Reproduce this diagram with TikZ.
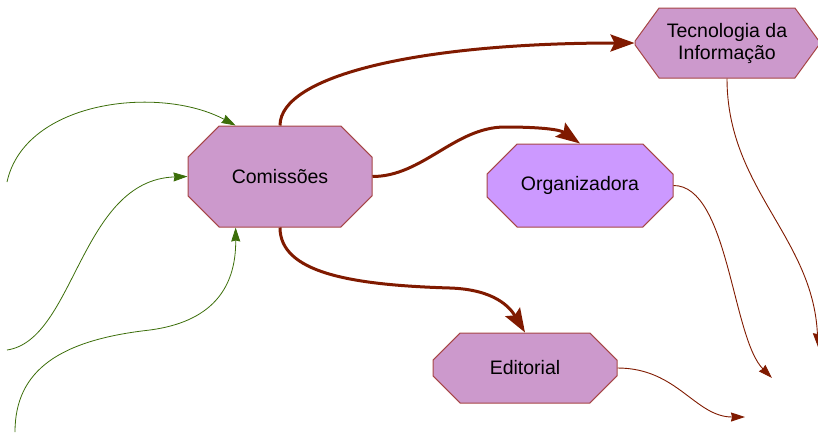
\documentclass[tikz,border=0pt]{standalone}
\usepackage{fontspec}
\setmainfont{Liberation Sans}
\usetikzlibrary{shapes.misc,arrows.meta}
\definecolor{boxfill}{RGB}{204,153,204}
\definecolor{orgfill}{RGB}{204,153,255}
\definecolor{boxline}{RGB}{166,70,70}
\definecolor{darkred}{RGB}{128,26,0}
\definecolor{leaf}{RGB}{60,110,10}
\begin{document}
\begin{tikzpicture}[x=1pt,y=-1pt,
        box/.style={chamfered rectangle, chamfered rectangle xsep=26pt, chamfered rectangle ysep=24pt,
            draw=boxline, line width=1pt, fill=boxfill, inner sep=0pt, minimum width=184pt, align=center,
            font=\fontsize{19.5}{22}\selectfont},
        bigarrow/.style={draw=darkred, line width=3pt, -{Stealth[length=24pt,width=17pt,inset=4pt]}},
        thinarrow/.style={draw=darkred, line width=0.9pt, -{Stealth[length=14pt,width=9pt,inset=1pt]}},
        greenarrow/.style={draw=leaf, line width=0.8pt, -{Stealth[length=14pt,width=9pt,inset=1pt]}}]
        \useasboundingbox (0,0) rectangle (818,432);
        \node[box, minimum height=70pt, inner ysep=-7pt, chamfered rectangle angle=36,
            chamfered rectangle ysep=20pt] (tec) at (727,43) {Tecnologia da\\Informação};
        \node[box, minimum height=101pt] (com) at (280,176.5) {Comissões};
        \node[box, fill=orgfill, minimum height=83pt, minimum width=186pt, chamfered rectangle ysep=21pt] (org) at (580,185.5) {Organizadora};
        \node[box, minimum height=70pt, chamfered rectangle xsep=21pt, chamfered rectangle ysep=20pt] (edi) at (525,368) {Editorial};
        \coordinate (tecend) at (818,347);
        \coordinate (orgend) at (772,378);
        \coordinate (ediend) at (745,417);
        \coordinate (g1) at (7,182);
        \coordinate (g2) at (7,350);
        \coordinate (g3) at (15,432);
        % thick arrows out of Comissoes
        \draw[bigarrow] (com.north) .. controls +(0,-50) and +(-215,0) .. (tec.west);
        \draw[bigarrow] (com.east) .. controls +(50,0) and +(-50,0) .. (505,127)
            .. controls +(35,0) and +(-20,-14) .. (org.north);
        \draw[bigarrow] (com.south) .. controls +(0,45) and +(-100,-3) .. (450,288)
            .. controls +(45,1.5) and +(-15,-25) .. (edi.north);
        % thin ones
        \draw[thinarrow] (tec.south) .. controls +(0,110) and +(-5,-110) .. (tecend);
        \draw[thinarrow] (org.east) .. controls +(55,0) and +(-40,-40) .. (orgend);
        \draw[thinarrow] (edi.east) .. controls +(60,0) and +(-50,0) .. (ediend);
        % green ones into Comissoes
        \draw[greenarrow] (g1) .. controls (25,100) and (160,85) .. (com.131);
        \draw[greenarrow] (g2) .. controls (75,340) and (80,180) .. (com.west);
        \draw[greenarrow] (g3) .. controls (15,370) and (60,340) .. (150,330)
            .. controls (210,322) and (236,290) .. (com.229);
    \end{tikzpicture}
\end{document}
